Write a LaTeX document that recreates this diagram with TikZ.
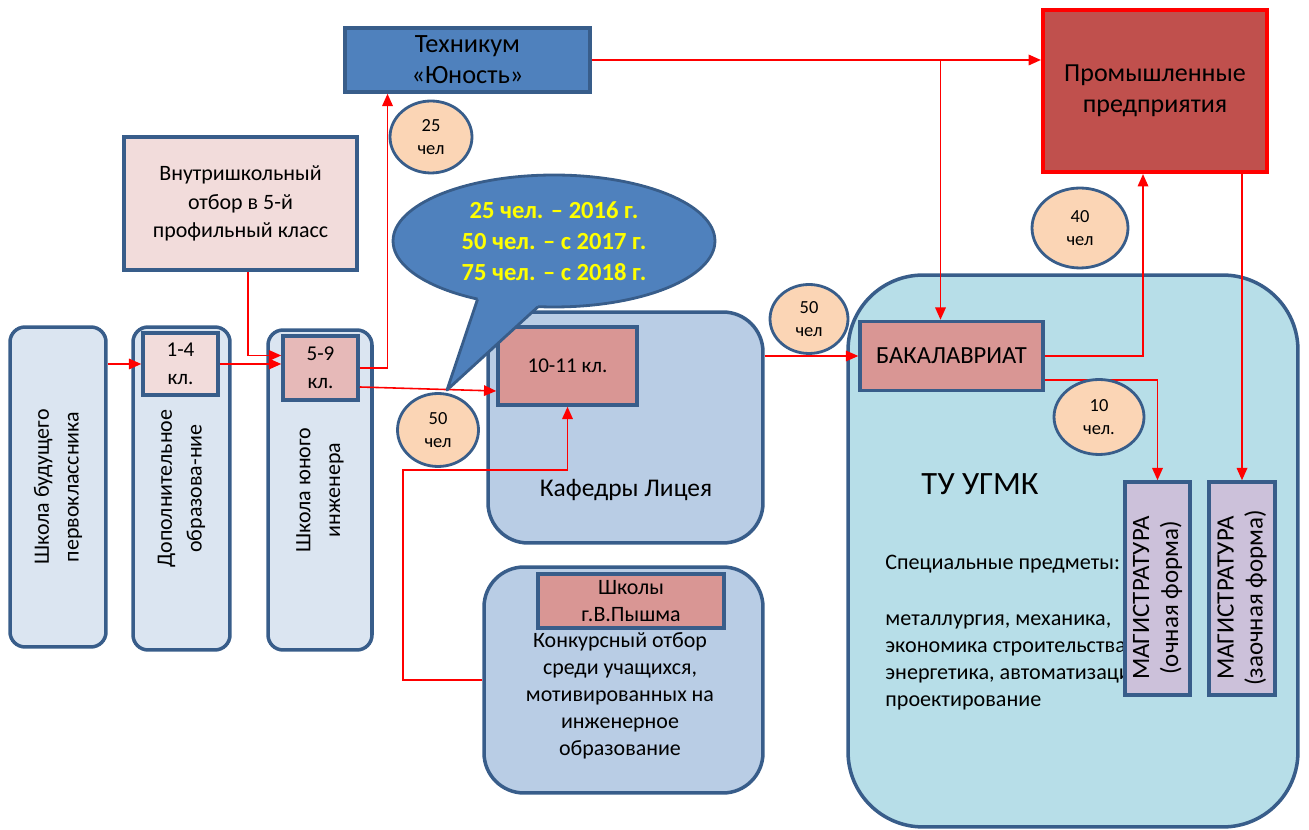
\documentclass[tikz,border=0pt]{standalone}
\usepackage{fontspec}
\setmainfont{Carlito}
\usepackage{tikz}
\usetikzlibrary{arrows.meta,shapes.geometric}
\definecolor{lineblue}{HTML}{385D8A}
\definecolor{paleblue}{HTML}{DBE5F1}
\definecolor{palepink}{HTML}{F2DCDB}
\definecolor{midpink}{HTML}{E6B9B8}
\definecolor{rose}{HTML}{D99694}
\definecolor{techblue}{HTML}{4F81BD}
\definecolor{lyceumblue}{HTML}{B9CDE5}
\definecolor{ugmkblue}{HTML}{B7DEE8}
\definecolor{peach}{HTML}{FBD5B5}
\definecolor{plantred}{HTML}{C0504D}
\definecolor{lilac}{HTML}{CCC1DA}
\definecolor{arrred}{HTML}{FF0000}
\definecolor{bubbleyellow}{HTML}{FFFF00}
\newcommand{\fsz}[2]{\fontsize{#1}{#2}\selectfont}

\begin{document}
\begin{tikzpicture}[
  x=0.02cm, y=-0.02cm,
  every node/.style={inner sep=0pt},
  tallbox/.style={draw=lineblue,line width=2pt,fill=paleblue,rounded corners=0.3cm,rotate=90,align=center,font=\fsz{12.5}{17}},
  classbox/.style={draw=lineblue,line width=2pt,align=center,font=\fsz{12.5}{16}},
  groupbox/.style={draw=lineblue,line width=2pt,fill=lyceumblue,rounded corners=0.8cm},
  magbox/.style={draw=lineblue,line width=2pt,fill=lilac},
  magtext/.style={rotate=90,align=center,font=\fsz{14.2}{16.5}},
  count/.style={ellipse,draw=lineblue,line width=1.6pt,fill=peach,align=center,font=\fsz{10.5}{13.5}},
  arr/.style={draw=arrred,line width=0.9pt,-{Triangle[length=7pt,width=6pt]}}
]
\useasboundingbox (0,0) rectangle (1309,830);

\node[tallbox,minimum width=6.4cm,minimum height=1.92cm] (first) at (58,487) {Школа будущего\\первоклассника};
\node[tallbox,minimum width=6.46cm,minimum height=1.94cm] (addit) at (181.5,488.5) {Дополнительное\\образова-ние};
\node[tallbox,minimum width=6.4cm,minimum height=2.08cm] (young) at (320,490) {Школа юного\\инженера};
\node[classbox,fill=palepink,minimum width=1.5cm,minimum height=1.24cm,font=\fsz{12}{16}] (kl14) at (180.5,364) {1-4\\кл.};
\node[classbox,fill=midpink,minimum width=1.5cm,minimum height=1.28cm,font=\fsz{12}{16}] (kl59) at (320.5,368) {5-9\\кл.};
\node[classbox,fill=palepink,minimum width=4.66cm,minimum height=2.66cm] (select) at (240.5,203.5) {Внутришкольный\\отбор в 5-й\\профильный класс};
\node[classbox,fill=techblue,minimum width=4.9cm,minimum height=1.28cm,font=\fsz{15}{17.6}] (tech) at (467.5,60) {Техникум\\«Юность»};

\node[groupbox,minimum width=5.5cm,minimum height=4.62cm] (lyceum) at (625.5,427.5) {};
\node[classbox,fill=rose,minimum width=2.78cm,minimum height=1.56cm,font=\fsz{12}{16}] (kl1011) at (567.5,366) {10-11 кл.};
\node[font=\fsz{14.5}{18}] (lyceumtxt) at (626,490) {Кафедры Лицея};

\node[groupbox,minimum width=5.58cm,minimum height=4.52cm] (schools) at (623.5,680) {};
\node[classbox,fill=rose,minimum width=3.72cm,minimum height=1.08cm,font=\fsz{12.5}{15.8}] (town) at (631,601) {Школы\\г.В.Пышма};
\node[align=center,font=\fsz{12.5}{15.3}] (contest) at (620,696) {Конкурсный отбор\\среди учащихся,\\мотивированных на\\инженерное\\образование};

\node[groupbox,fill=ugmkblue,rounded corners=1.5cm,minimum width=9cm,minimum height=11.04cm] (ugmk) at (1073,551) {};
\node[font=\fsz{18.5}{22}] (ugmktxt) at (980,484) {ТУ УГМК};
\node[anchor=north west,align=left,font=\fsz{12.6}{15.3}] (subjects) at (885,555) {Специальные предметы:\\[16.5pt]металлургия, механика,\\экономика строительства,\\энергетика, автоматизация,\\проектирование};
\node[magbox,minimum width=1.3cm,minimum height=4.26cm] (mag1) at (1157.5,588.5) {};
\node[magtext] (mag1txt) at (1157.5,598) {МАГИСТРАТУРА\\(очная форма)};
\node[magbox,minimum width=1.32cm,minimum height=4.26cm] (mag2) at (1242,588.5) {};
\node[magtext] (mag2txt) at (1242,598) {МАГИСТРАТУРА\\(заочная форма)};
\node[classbox,fill=rose,minimum width=3.66cm,minimum height=1.38cm,font=\fsz{14}{16}] (bach) at (951.5,356) {БАКАЛАВРИАТ};
\node[draw=arrred,line width=2.4pt,fill=plantred,minimum width=4.48cm,minimum height=3.24cm,align=center,font=\fsz{14.8}{17.6}] (plants) at (1155,91) {Промышленные\\предприятия};

\coordinate (turn) at (403,470);
\coordinate (bachin) at ([xshift=-0.22cm]bach.north);
\draw[arr] (first.south |- kl14.west) -- (kl14.west);
\draw[arr] (kl14.east) -- (kl59.west |- kl14.east);
\draw[arr] ([xshift=0.15cm]select.south) |- ([yshift=0.25cm]kl59.west);
\draw[arr] (kl59.east) -| ([xshift=-1.6cm]tech.south);
\draw[arr] ([yshift=-0.38cm]kl59.east) -- ([yshift=-0.5cm]kl1011.west);
\draw[arr] (schools.west) -| (turn) -| (kl1011.south);
\draw[arr] (lyceum.east |- bach.west) -- (bach.west);
\draw[arr] (tech.east) -- (plants.west |- tech.east);
\draw[arr] (bachin |- tech.east) -- (bachin);
\draw[arr] (bach.east) -| ([xshift=-0.24cm]plants.south);
\draw[arr] ([yshift=-0.48cm]bach.east) -| (mag1.north);
\draw[arr] (mag2.north |- plants.south) -- (mag2.north);

\node[count,minimum width=1.64cm,minimum height=1.44cm] (n25) at (431,137) {25\\чел};
\node[count,minimum width=1.62cm,minimum height=1.46cm] (n50a) at (438,430) {50\\чел};
\node[count,minimum width=1.56cm,minimum height=1.38cm] (n50b) at (809,319) {50\\чел};
\node[count,minimum width=1.92cm,minimum height=1.6cm] (n40) at (1080,228) {40\\чел};
\node[count,minimum width=1.8cm,minimum height=1.5cm] (n10) at (1099,417) {10\\чел.};

\node[ellipse,draw=lineblue,line width=1.6pt,fill=techblue,minimum width=6.44cm,minimum height=2.64cm,align=center,text=bubbleyellow,font=\bfseries\fsz{14}{17.6}] (note) at (554,241) {25 чел. – 2016 г.\\50 чел. – с 2017 г.\\75 чел. – с 2018 г.};
\fill[techblue] (477.5,299.4) -- (447,390) -- (538.1,306.7) -- (536,297) -- (480,292) -- cycle;
\draw[lineblue,line width=1.6pt,line join=round] (477.5,299.4) -- (447,390) -- (538.1,306.7);
\end{tikzpicture}
\end{document}
